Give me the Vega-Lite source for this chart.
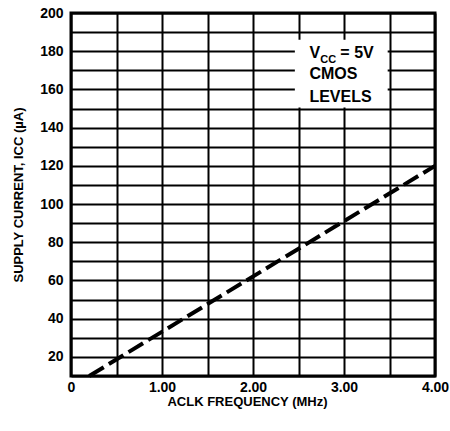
{
  "$schema": "https://vega.github.io/schema/vega-lite/v6.json",
  "autosize": "none",
  "width": 364,
  "height": 363,
  "padding": {"left": 71, "top": 13, "right": 15, "bottom": 55},
  "background": "white",
  "config": {
    "font": "Liberation Sans, Arial, sans-serif",
    "view": {"stroke": "black", "strokeWidth": 3},
    "axis": {
      "domain": false,
      "ticks": false,
      "gridColor": "black",
      "gridWidth": 2,
      "gridOpacity": 1,
      "labelColor": "black",
      "labelFontWeight": "bold",
      "labelOverlap": false,
      "labelFlush": false,
      "titleColor": "black",
      "titleFontWeight": "bold"
    }
  },
  "datasets": {
    "curve": [
      {"f": 0.2, "icc": 10},
      {"f": 4.0, "icc": 120}
    ],
    "box": [
      {"x1": 2.46, "x2": 3.48, "y1": 150.5, "y2": 186}
    ],
    "notes": [
      {"x": 2.62, "y": 176.5, "t": "V"},
      {"x": 2.96, "y": 176.5, "t": "= 5V"},
      {"x": 2.62, "y": 165.5, "t": "CMOS"},
      {"x": 2.62, "y": 153.5, "t": "LEVELS"}
    ],
    "subs": [
      {"x": 2.74, "y": 174, "t": "CC"}
    ]
  },
  "encoding": {
    "x": {
      "type": "quantitative",
      "scale": {"domain": [0, 4], "nice": false, "zero": false},
      "axis": {
        "values": [0, 0.5, 1, 1.5, 2, 2.5, 3, 3.5, 4],
        "labelExpr": "datum.value == 0 ? '0' : (datum.value % 1 == 0 ? format(datum.value, '.2f') : '')",
        "labelFontSize": 14,
        "labelPadding": 4,
        "title": "ACLK FREQUENCY (MHz)",
        "titleFontSize": 13,
        "titleBaseline": "alphabetic",
        "titleY": 29,
        "titleX": 176
      }
    },
    "y": {
      "type": "quantitative",
      "scale": {"domain": [10, 200], "nice": false, "zero": false},
      "axis": {
        "values": [10, 20, 30, 40, 50, 60, 70, 80, 90, 100, 110, 120, 130, 140, 150, 160, 170, 180, 190, 200],
        "labelExpr": "datum.value % 20 == 0 ? datum.label : ''",
        "labelFontSize": 14,
        "labelPadding": 8,
        "title": "SUPPLY CURRENT, ICC (µA)",
        "titleFontSize": 13,
        "titlePadding": 14
      }
    }
  },
  "layer": [
    {
      "data": {"name": "box"},
      "mark": {"type": "rect", "fill": "white"},
      "encoding": {
        "x": {"field": "x1", "type": "quantitative"},
        "x2": {"field": "x2"},
        "y": {"field": "y1", "type": "quantitative"},
        "y2": {"field": "y2"}
      }
    },
    {
      "data": {"name": "curve"},
      "mark": {"type": "line", "color": "black", "strokeWidth": 4, "strokeDash": [17, 6]},
      "encoding": {
        "x": {"field": "f", "type": "quantitative"},
        "y": {"field": "icc", "type": "quantitative"}
      }
    },
    {
      "data": {"name": "notes"},
      "mark": {"type": "text", "align": "left", "baseline": "alphabetic", "fontSize": 16, "fontWeight": "bold", "color": "black"},
      "encoding": {
        "x": {"field": "x", "type": "quantitative"},
        "y": {"field": "y", "type": "quantitative"},
        "text": {"field": "t"}
      }
    },
    {
      "data": {"name": "subs"},
      "mark": {"type": "text", "align": "left", "baseline": "alphabetic", "fontSize": 11, "fontWeight": "bold", "color": "black"},
      "encoding": {
        "x": {"field": "x", "type": "quantitative"},
        "y": {"field": "y", "type": "quantitative"},
        "text": {"field": "t"}
      }
    }
  ]
}
